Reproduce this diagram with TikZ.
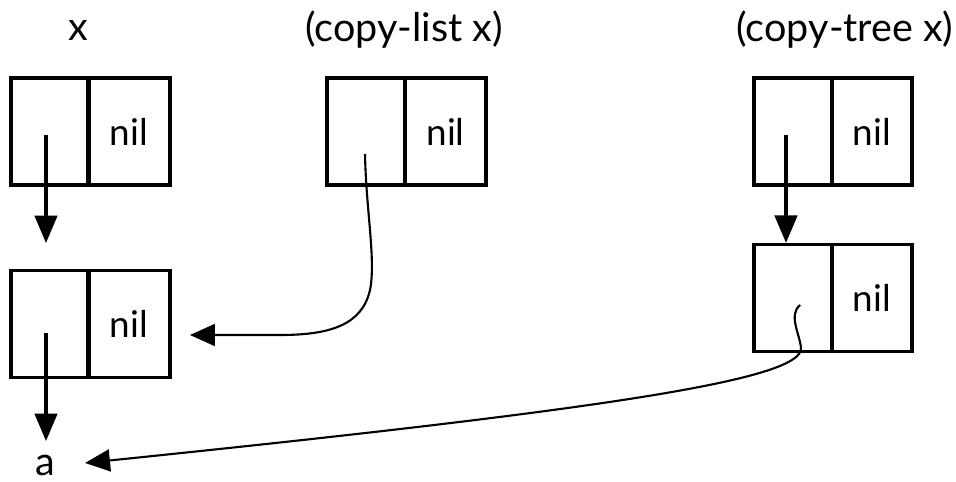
\documentclass[tikz,border=0pt]{standalone}
\usepackage{fontspec}
\setmainfont{Lato}
\usetikzlibrary{arrows.meta}
\begin{document}
\begin{tikzpicture}[x=0.02cm,y=-0.02cm,
  cell/.style={draw, line width=1.9pt, minimum width=1.56cm, minimum height=2.14cm, inner sep=0pt, font=\fontsize{21}{24}\selectfont},
  lbl/.style={font=\fontsize{22.5}{26}\selectfont, inner sep=0pt},
  ptr/.style={line width=1.8pt, -{Triangle[length=0.55cm,width=0.45cm]}},
  cptr/.style={line width=1.2pt, -{Triangle[length=0.5cm,width=0.44cm]}}]
\useasboundingbox (0,0) rectangle (956,481);
% labels
\node[lbl] (lx) at (78,30) {x};
\node[lbl] (lcl) at (404,30) {(copy-list x)};
\node[lbl] (lct) at (845,30) {(copy-tree x)};
% x list
\node[cell] (a1) at (50,131.5) {};
\node[cell, minimum width=1.64cm] (d1) at (129,131.5) {nil};
\node[cell] (a2) at (50,324) {};
\node[cell, minimum width=1.64cm] (d2) at (129,324) {nil};
% copy-list
\node[cell] (a3) at (366,131.5) {};
\node[cell, minimum width=1.62cm] (d3) at (445.5,131.5) {nil};
% copy-tree
\node[cell] (a4) at (793,131.5) {};
\node[cell, minimum width=1.6cm] (d4) at (872,131.5) {nil};
\node[cell] (a5) at (793,298) {};
\node[cell, minimum width=1.6cm] (d5) at (872,298) {nil};
% atom
\node[lbl] (atom) at (45,465) {a};
% pointer origins
\coordinate (p1) at (46,135);
\coordinate (p2) at (46,333);
\coordinate (p3) at (365,154);
\coordinate (p4) at (786,135);
\coordinate (p5) at (800,305);
\coordinate (t1) at (46,243);
\coordinate (t2) at (46,441);
\coordinate (t3) at (190,335);
\coordinate (t5) at (85,463);
% connectors
\draw[ptr] (p1) -- (t1);
\draw[ptr] (p2) -- (t2);
\draw[ptr] (p4) -- (a5.north -| p4);
\draw[cptr] (p3) .. controls (366,210) and (376,260) .. (370,290)
  .. controls (362,325) and (330,335) .. (280,335) -- (t3);
\draw[cptr] (p5) .. controls (788,315) and (800,335) .. (801,348)
  .. controls (803,380) and (600,410) .. (t5);
\end{tikzpicture}
\end{document}
